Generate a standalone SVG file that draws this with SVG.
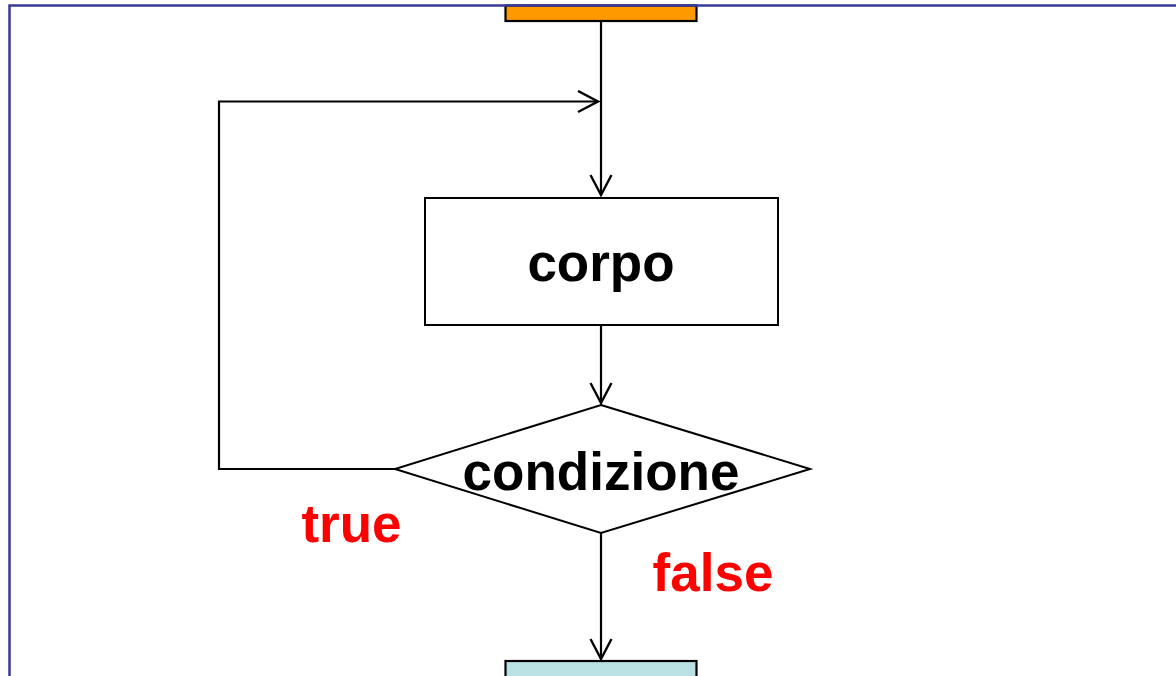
<svg xmlns="http://www.w3.org/2000/svg" width="1176" height="676" viewBox="0 0 1176 676">
<style>
.shape{fill:#ffffff;stroke:#000000;stroke-width:2}
.lbl{font-family:"Liberation Sans",Arial,sans-serif;font-weight:bold;font-size:53px;text-anchor:middle;fill:#000000}
.red{fill:#ff0000}
.conn{fill:none;stroke:#000000;stroke-width:2.2}
</style>
<defs>
<marker id="arr" viewBox="0 0 24 24" refX="21" refY="12" markerWidth="24" markerHeight="24" markerUnits="userSpaceOnUse" orient="auto">
<path d="M1,1.5 L21,12 L1,22.5" fill="none" stroke="#000000" stroke-width="2.4"/>
</marker>
</defs>
<rect x="0" y="0" width="1176" height="676" fill="#ffffff"/>
<g id="start">
<rect x="505.5" y="5.5" width="191" height="15.5" fill="#ff9900" stroke="#000000" stroke-width="2.2"/>
</g>
<path d="M9.5,676 L9.5,5.5 L1176,5.5" fill="none" stroke="#3a3a9c" stroke-width="2.5"/>
<g id="corpo">
<rect class="shape" x="425" y="198" width="353" height="127"/>
<text class="lbl" x="601" y="281">corpo</text>
</g>
<g id="condizione">
<polygon class="shape" points="601,405 810,469 601,533 395,469"/>
<text class="lbl" x="601" y="490">condizione</text>
</g>
<g id="end">
<rect x="505.5" y="661" width="191" height="30" fill="#b9e0e2" stroke="#000000" stroke-width="2.2"/>
</g>
<g id="connectors">
<line class="conn" x1="601" y1="21" x2="601" y2="195" marker-end="url(#arr)"/>
<polyline class="conn" points="395,469 219,469 219,101.5 598,101.5" marker-end="url(#arr)"/>
<line class="conn" x1="601" y1="325" x2="601" y2="403" marker-end="url(#arr)"/>
<line class="conn" x1="601" y1="533" x2="601" y2="659" marker-end="url(#arr)"/>
</g>
<g id="labels">
<text class="lbl red" x="351.5" y="542">true</text>
<text class="lbl red" x="713" y="591">false</text>
</g>
</svg>
